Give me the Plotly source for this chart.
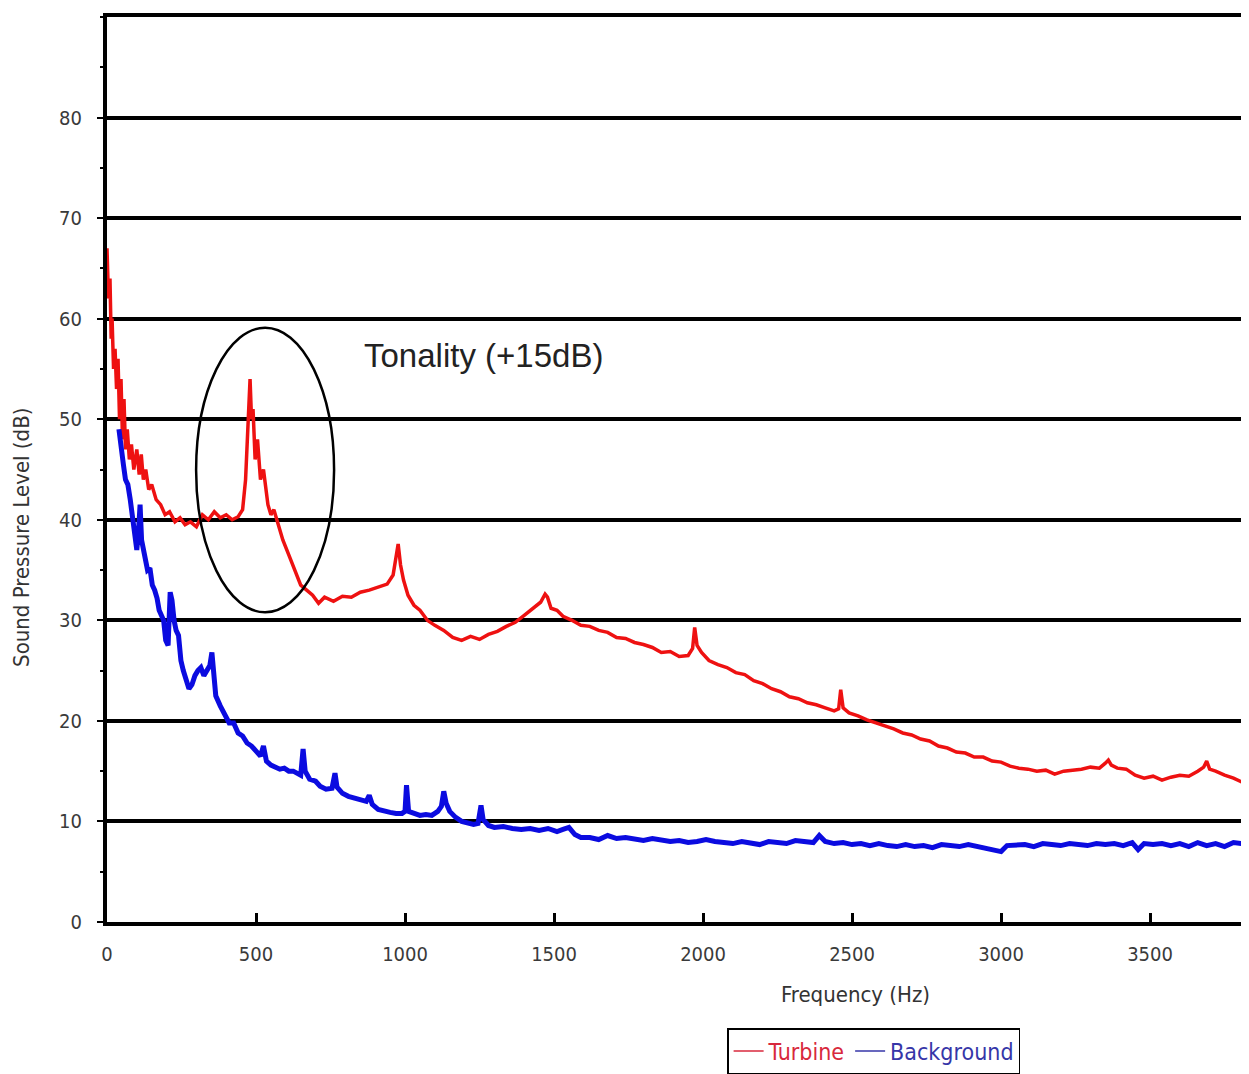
import plotly.graph_objects as go

# ---------------- data ----------------
turbine_hz = [0, 5, 10, 14, 17, 22, 27, 32, 37, 42, 47, 52, 57, 62, 68, 75, 82, 90, 100, 108,
              115, 122, 130, 140, 150, 165, 180, 195, 210, 228, 245, 262, 280, 300, 320, 340,
              360, 380, 400, 420, 440, 455, 465, 472, 480, 485, 490, 497, 505, 515, 525, 540,
              550, 560, 575, 590, 610, 630, 650, 670, 690, 710, 730, 760, 790, 820, 850, 880,
              910, 940, 960, 970, 977, 985, 995, 1010, 1030, 1050, 1075, 1100, 1130, 1160, 1190,
              1220, 1250, 1280, 1310, 1340, 1370, 1400, 1430, 1455, 1470, 1478, 1490, 1510, 1530,
              1560, 1590, 1620, 1650, 1680, 1710, 1740, 1770, 1800, 1830, 1860, 1890, 1920, 1950,
              1965, 1972, 1980, 1995, 2020, 2050, 2080, 2110, 2140, 2170, 2200, 2230, 2260, 2290,
              2320, 2350, 2380, 2410, 2440, 2455, 2462, 2470, 2490, 2520, 2550, 2580, 2610, 2640,
              2670, 2700, 2730, 2760, 2790, 2820, 2850, 2880, 2910, 2940, 2970, 3000, 3030, 3060,
              3090, 3120, 3150, 3180, 3210, 3240, 3270, 3300, 3330, 3350, 3360, 3370, 3390, 3420,
              3450, 3480, 3510, 3540, 3570, 3600, 3630, 3660, 3680, 3690, 3700, 3720, 3750, 3780,
              3810, 3840]
turbine_db = [67, 62, 64, 58, 60, 55, 57, 53, 56, 50, 54, 48, 52, 47, 49, 46, 47.5, 45, 47, 44.5,
              46.5, 44, 45, 43, 43.5, 42, 41.5, 40.5, 40.8, 39.8, 40.2, 39.5, 39.8, 39.3, 40.5, 40,
              40.8, 40.2, 40.5, 40, 40.3, 41, 44, 48, 54, 50, 51, 46, 48, 44, 45, 41.5,
              40.5, 41, 39.5, 38, 36.5, 35, 33.5, 33, 32.5, 31.7, 32.3, 31.9, 32.4, 32.3, 32.8, 33,
              33.3, 33.6, 34.5, 36.5, 37.6, 35.5, 34, 32.5, 31.5, 31, 30, 29.5, 29, 28.3, 28,
              28.4, 28.1, 28.6, 28.9, 29.4, 29.8, 30.5, 31.2, 31.8, 32.6, 32.3, 31.2, 31, 30.4,
              30, 29.5, 29.4, 29, 28.8, 28.3, 28.2, 27.8, 27.6, 27.3, 26.8, 26.9, 26.4, 26.5,
              27.2, 29.3, 27.5, 26.8, 26, 25.6, 25.3, 24.8, 24.6, 24, 23.7, 23.2, 22.9, 22.4,
              22.2, 21.8, 21.6, 21.3, 21, 21.2, 23.1, 21.3, 20.8, 20.5, 20.1, 19.8, 19.5, 19.2,
              18.8, 18.6, 18.2, 18, 17.5, 17.3, 16.9, 16.8, 16.4, 16.4, 16, 15.9, 15.5, 15.3,
              15.2, 15, 15.1, 14.7, 15, 15.1, 15.2, 15.4, 15.3, 15.8, 16.1, 15.6, 15.3, 15.2,
              14.6, 14.3, 14.5, 14.1, 14.4, 14.6, 14.5, 15, 15.4, 16, 15.2, 15, 14.6, 14.3,
              13.9, 13.6]

background_hz = [40, 48, 55, 62, 70, 78, 86, 94, 100, 106, 111, 116, 122, 128, 136, 144,
                 152, 160, 168, 175, 182, 190, 197, 205, 212, 218, 225, 232, 240, 248, 256, 265,
                 275, 285, 295, 305, 315, 325, 335, 345, 352, 358, 365, 380, 395, 410, 425, 440,
                 455, 470, 485, 500, 515, 525, 535, 550, 565, 580, 595, 610, 625, 640, 650, 658,
                 665, 680, 700, 715, 735, 755, 765, 772, 790, 810, 830, 850, 870, 880, 890, 910,
                 930, 950, 970, 990, 1000, 1005, 1012, 1030, 1050, 1070, 1090, 1110, 1122, 1130,
                 1138, 1150, 1170, 1190, 1210, 1230, 1245, 1255, 1262, 1280, 1300, 1330, 1360,
                 1390, 1420, 1450, 1480, 1510, 1530, 1550, 1570, 1590, 1620, 1650, 1680, 1710,
                 1740, 1770, 1800, 1830, 1860, 1890, 1920, 1950, 1980, 2010, 2040, 2070, 2100,
                 2130, 2160, 2190, 2220, 2250, 2280, 2310, 2340, 2370, 2390, 2410, 2440, 2470,
                 2500, 2530, 2560, 2590, 2620, 2650, 2680, 2710, 2740, 2770, 2800, 2830, 2860,
                 2890, 2920, 2950, 2980, 3000, 3020, 3050, 3080, 3110, 3140, 3170, 3200, 3230,
                 3260, 3290, 3320, 3350, 3380, 3410, 3440, 3460, 3480, 3510, 3540, 3570, 3600,
                 3630, 3660, 3690, 3720, 3750, 3780, 3810, 3840]
background_db = [49, 46.5, 45.5, 44, 43.5, 42, 40, 38, 37, 39, 41.5, 38, 37, 36, 35, 35.2,
                 33.5, 33, 32.2, 31, 30.5, 30, 28, 27.5, 32.8, 32, 30, 29, 28.5, 26, 25, 24.2,
                 23.2, 23.6, 24.5, 25, 25.3, 24.5, 25, 25.5, 26.8, 24, 22.5, 21.5, 20.5, 19.8, 19.8, 18.8,
                 18.5, 17.8, 17.5, 17, 16.5, 17.5, 16, 15.6, 15.4, 15.2, 15.3, 15, 15, 14.8, 14.6, 17.2,
                 15, 14.2, 14, 13.5, 13.2, 13.3, 14.8, 13.4, 12.8, 12.5, 12.3, 12.1, 12, 12.6, 11.7, 11.2,
                 11, 10.9, 10.8, 10.8, 11, 13.6, 11, 10.8, 10.6, 10.7, 10.6, 11, 11.5, 13,
                 11.8, 11, 10.4, 10, 9.8, 9.7, 9.8, 11.6, 10.2, 9.6, 9.4, 9.5, 9.3,
                 9.2, 9.3, 9.1, 9.3, 9, 9.2, 9.4, 8.7, 8.4, 8.4, 8.2, 8.6, 8.3,
                 8.4, 8.2, 8.1, 8.3, 8.2, 8, 8.1, 7.9, 8, 8.2, 8, 7.9, 7.8,
                 8, 7.9, 7.7, 8, 7.9, 7.8, 8.1, 8, 7.9, 8.6, 8, 7.8, 7.9,
                 7.7, 7.8, 7.6, 7.8, 7.6, 7.5, 7.7, 7.5, 7.6, 7.4, 7.7, 7.6, 7.5,
                 7.7, 7.5, 7.4, 7.2, 7.0, 7.6, 7.6, 7.7, 7.5, 7.8, 7.7, 7.6, 7.8,
                 7.7, 7.6, 7.8, 7.7, 7.8, 7.6, 7.9, 7.2, 7.8, 7.7, 7.8, 7.6, 7.8,
                 7.5, 7.9, 7.6, 7.8, 7.5, 7.9, 7.8, 8]

y_ticks = [0, 10, 20, 30, 40, 50, 60, 70, 80]
x_ticks = [0, 500, 1000, 1500, 2000, 2500, 3000, 3500]

LABEL_FONT = "DejaVu Sans Condensed, DejaVu Sans"

# ---------------- figure ----------------
fig = go.Figure()
fig.add_trace(go.Scatter(
    x=turbine_hz, y=turbine_db, mode="lines", showlegend=False,
    line=dict(color="#ee1111", width=3.5),
))
fig.add_trace(go.Scatter(
    x=background_hz, y=background_db, mode="lines", showlegend=False,
    line=dict(color="#0b0be0", width=5),
))
# legend entries (thin line samples, coloured labels as in the reference)
fig.add_trace(go.Scatter(
    x=[None], y=[None], mode="lines",
    name="<span style='color:#d8283c'>Turbine</span>",
    line=dict(color="#d8283c", width=1.5),
))
fig.add_trace(go.Scatter(
    x=[None], y=[None], mode="lines",
    name="<span style='color:#3636a8'>Background</span>",
    line=dict(color="#3636a8", width=1.5),
))

# ellipse around tonal peak
fig.add_shape(type="circle", xref="x", yref="y",
              x0=299, x1=762, y0=30.8, y1=59.1,
              line=dict(color="black", width=2.5))

fig.add_annotation(x=856, y=56.3, xref="x", yref="y", text="Tonality (+15dB)",
                   showarrow=False, xanchor="left", yanchor="middle",
                   font=dict(family="Liberation Sans, Arial", size=33, color="#222"))

# axis titles as annotations (placed as in reference)
fig.add_annotation(x=2510, y=-0.0803, xref="x", yref="paper", text="Frequency (Hz)",
                   showarrow=False, xanchor="center", yanchor="middle",
                   font=dict(family=LABEL_FONT, size=22, color="#333"))
fig.add_annotation(x=-0.0744, y=38.2, xref="paper", yref="y",
                   text="Sound Pressure Level (dB)", textangle=-90,
                   showarrow=False, xanchor="center", yanchor="middle",
                   font=dict(family=LABEL_FONT, size=22, color="#333"))

fig.update_layout(
    width=1241, height=1066,
    margin=dict(l=99, r=0, t=9, b=148),
    plot_bgcolor="white", paper_bgcolor="white",
    font=dict(family=LABEL_FONT, size=20, color="#3a3a3a"),
    showlegend=True,
    legend=dict(orientation="h", x=0.543, y=-0.1177, xanchor="left", yanchor="top",
                bordercolor="black", borderwidth=1.5,
                font=dict(family=LABEL_FONT, size=23),
                itemwidth=30, tracegroupgap=0),
)
fig.update_xaxes(range=[0, 3832], tickvals=x_ticks, ticktext=[str(v) for v in x_ticks],
                 showgrid=False, zeroline=False,
                 showline=True, linecolor="black", linewidth=4, mirror=True,
                 ticks="inside", ticklen=9, tickwidth=3, tickcolor="black",
                 ticklabelstandoff=11)
fig.update_yaxes(range=[0, 90], tickvals=y_ticks, ticktext=[str(v) for v in y_ticks],
                 showgrid=True, gridcolor="black", gridwidth=4, zeroline=False,
                 showline=True, linecolor="black", linewidth=4,
                 ticks="outside", ticklen=6, tickwidth=2, tickcolor="black",
                 ticklabelstandoff=11,
                 minor=dict(dtick=5, ticks="outside", ticklen=3, tickcolor="black", showgrid=False))

fig.write_html("out.html")
